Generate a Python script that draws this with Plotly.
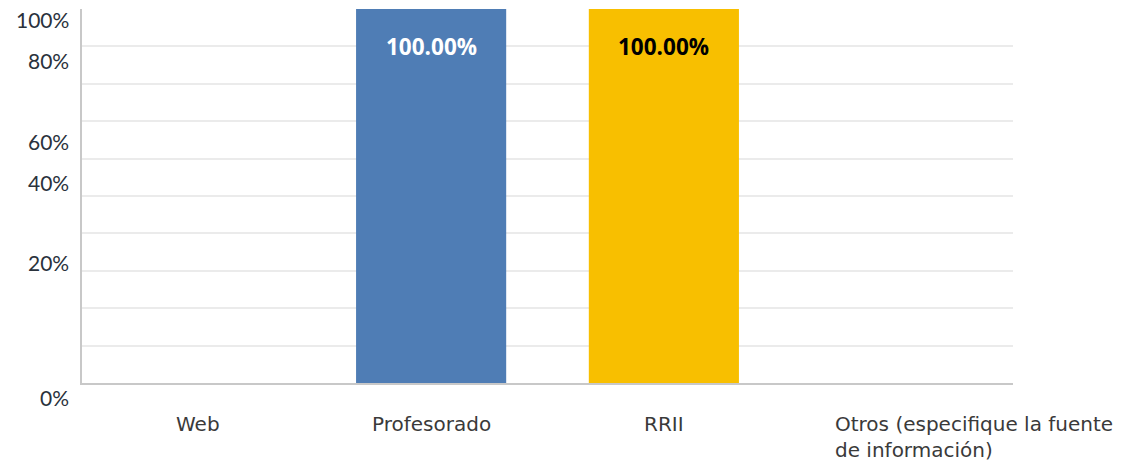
import plotly.graph_objects as go

categories = ["Web", "Profesorado", "RRII", "Otros (especifique la fuente de información)"]
values = [0, 100, 100, 0]
bar_colors = ["#4f7db5", "#4f7db5", "#f8bf00", "#f8bf00"]
label_colors = ["white", "white", "black", "black"]

# y tick labels as rendered in the reference (misaligned with the grid)
ytick_text = ["100%", "80%", "60%", "40%", "20%", "0%"]
ytick_pos = [97.3, 86.1, 64.7, 53.5, 32.1, -4.0]
grid_vals = [10, 20, 30, 40, 50, 60, 70, 80, 90]

fig = go.Figure()
fig.add_trace(go.Bar(
    x=list(range(len(categories))), y=values,
    marker=dict(color=bar_colors, line=dict(width=0)),
    width=0.645, hoverinfo="skip",
))

ann = []
for i, (v, c) in enumerate(zip(values, label_colors)):
    if v > 0:
        ann.append(dict(x=i, y=v - 10.0, xref="x", yref="y", text=f"<b>{v:.2f}%</b>",
                        showarrow=False, yanchor="middle",
                        font=dict(family="Open Sans", size=22.5, color=c)))

for t, p in zip(ytick_text, ytick_pos):
    ann.append(dict(x=0, y=p / 100, xref="paper", yref="paper", text=t, showarrow=False,
                    xanchor="right", yanchor="middle", xshift=-11,
                    font=dict(family="Lato", size=21, color="#2a323c")))

xlab_font = dict(family="DejaVu Sans", size=20, color="#3a3a3a")
for i, c in enumerate(categories[:3]):
    ann.append(dict(x=i, y=0, xref="x", yref="paper", text=c, showarrow=False,
                    yanchor="top", yshift=-27, font=xlab_font))
ann.append(dict(x=3, y=0, xref="x", yref="paper",
                text="Otros (especifique la fuente<br>de información)",
                showarrow=False, xanchor="left", yanchor="top", align="left",
                xshift=-64, yshift=-27, font=xlab_font))

fig.update_layout(
    width=1114, height=460,
    margin=dict(l=74, r=109, t=1, b=85),
    paper_bgcolor="white", plot_bgcolor="white",
    showlegend=False,
    annotations=ann,
    xaxis=dict(range=[-0.5, 3.5], showticklabels=False, showgrid=False, zeroline=False,
               showline=True, linecolor="#c8c8c8", linewidth=2, ticks=""),
    yaxis=dict(range=[0, 100], tickvals=grid_vals, showticklabels=False,
               showgrid=True, gridcolor="#ebebeb", gridwidth=1.5, zeroline=False,
               showline=True, linecolor="#c8c8c8", linewidth=2, ticks=""),
)

fig.write_html("out.html")
